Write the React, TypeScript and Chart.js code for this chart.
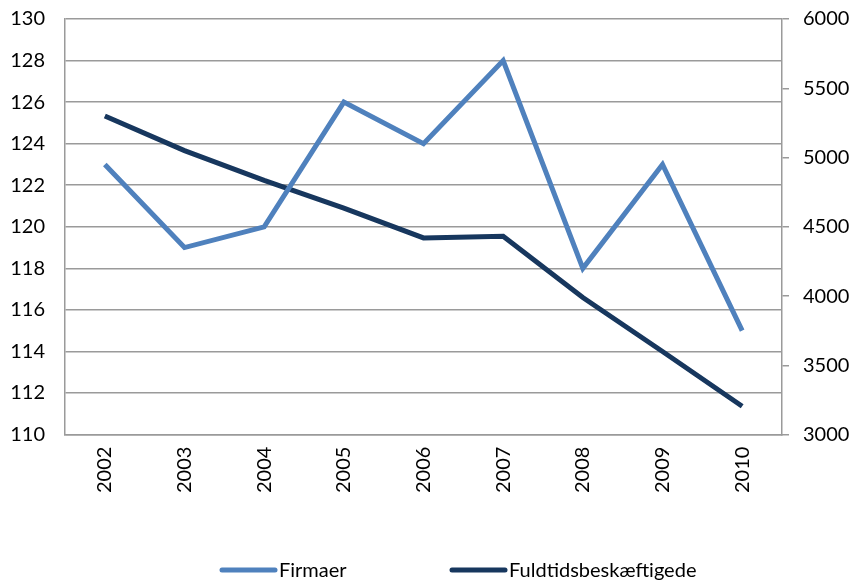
import React, { useEffect, useRef } from "react";
import { Chart, registerables } from "chart.js";

Chart.register(...registerables);

const years = ["2002", "2003", "2004", "2005", "2006", "2007", "2008", "2009", "2010"];
const firmaer = [123, 119, 120, 126, 124, 128, 118, 123, 115];
const fuldtids = [5300, 5050, 4835, 4635, 4420, 4432, 3990, 3600, 3205];
const leftTicks = { min: 110, max: 130, step: 2 };
const rightTicks = { min: 3000, max: 6000, step: 500 };
const seriesNames = ["Firmaer", "Fuldtidsbeskæftigede"];
const colors = ["#4F81BD", "#17375E"];

const FONT = "Lato, 'Liberation Sans', sans-serif";
const SHIFT = 13;

const legendPlugin = {
  id: "customLegend",
  afterDraw(chart: any) {
    const ctx = chart.ctx;
    const positions = [220, 450];
    const y = 570 + SHIFT;
    ctx.save();
    chart.data.datasets.forEach((ds: any, i: number) => {
      const x = positions[i];
      ctx.strokeStyle = ds.borderColor;
      ctx.lineWidth = 5;
      ctx.lineCap = "round";
      ctx.beginPath();
      ctx.moveTo(x + 2, y);
      ctx.lineTo(x + 55, y);
      ctx.stroke();
      ctx.fillStyle = "#000";
      ctx.font = `20px ${FONT}`;
      ctx.textBaseline = "middle";
      ctx.textAlign = "left";
      ctx.fillText(ds.label, x + 59, y + 1);
    });
    ctx.restore();
  },
};

export default function App() {
  const ref = useRef<HTMLCanvasElement>(null);
  useEffect(() => {
    document.body.style.margin = "0";
    const chart = new Chart(ref.current!, {
      type: "line",
      data: {
        labels: years,
        datasets: [
          {
            label: seriesNames[0],
            data: firmaer,
            borderColor: colors[0],
            backgroundColor: colors[0],
            borderWidth: 5,
            pointRadius: 0,
            tension: 0,
            yAxisID: "y",
          },
          {
            label: seriesNames[1],
            data: fuldtids,
            borderColor: colors[1],
            backgroundColor: colors[1],
            borderWidth: 5,
            pointRadius: 0,
            tension: 0,
            yAxisID: "y1",
          },
        ],
      },
      options: {
        responsive: false,
        animation: false,
        layout: { padding: { top: 0, left: 0, right: 0, bottom: 76 } },
        plugins: { legend: { display: false }, tooltip: { enabled: false } },
        scales: {
          x: {
            offset: true,
            grid: { display: false, drawTicks: false },
            border: { color: "#9a9a9a", width: 1.5 },
            ticks: {
              minRotation: 90,
              maxRotation: 90,
              padding: 12,
              color: "#000",
              font: { family: FONT, size: 20 },
            },
          },
          y: {
            position: "left",
            min: leftTicks.min,
            max: leftTicks.max,
            afterFit: (s: any) => {
              s.width = 65;
            },
            ticks: {
              stepSize: leftTicks.step,
              padding: 20,
              color: "#000",
              font: { family: FONT, size: 20 },
            },
            grid: { color: "#9a9a9a", lineWidth: 1.5, drawTicks: false },
            border: { color: "#9a9a9a", width: 1.5 },
          },
          y1: {
            position: "right",
            min: rightTicks.min,
            max: rightTicks.max,
            afterFit: (s: any) => {
              s.width = 69;
            },
            ticks: {
              stepSize: rightTicks.step,
              padding: 14,
              color: "#000",
              font: { family: FONT, size: 20 },
              callback: (v: any) => String(v),
            },
            grid: { drawOnChartArea: false, color: "#9a9a9a", lineWidth: 1.5, tickLength: 7 },
            border: { color: "#9a9a9a", width: 1.5 },
          },
        },
      },
      plugins: [legendPlugin],
    });
    return () => chart.destroy();
  }, []);
  return (
    <div style={{ width: 851, height: 581, overflow: "hidden" }}>
      <canvas
        ref={ref}
        width={851}
        height={581 + SHIFT}
        style={{ display: "block", marginTop: -SHIFT }}
      />
    </div>
  );
}
